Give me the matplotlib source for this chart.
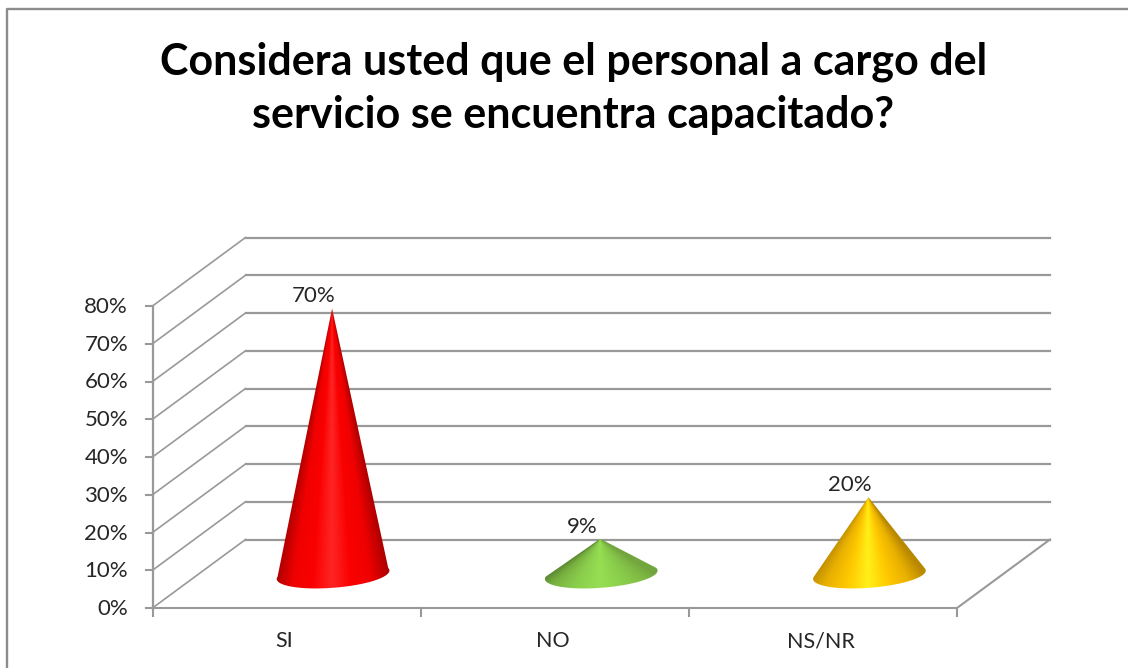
import numpy as np
import matplotlib
matplotlib.use('Agg')
import matplotlib.pyplot as plt
from matplotlib.colors import LinearSegmentedColormap
from matplotlib.path import Path
from matplotlib.patches import PathPatch

categories = ['SI', 'NO', 'NS/NR']
values = [70, 9, 20]
value_labels = ['70%', '9%', '20%']
y_ticks = [0, 10, 20, 30, 40, 50, 60, 70, 80]
cone_colors = [
    ['#a80000', '#f00000', '#fa0000', '#ff2525', '#fa0000', '#f00000', '#b00000'],
    ['#527a2c', '#78b040', '#8ace4c', '#98de52', '#8ace4c', '#80bb45', '#72a53f'],
    ['#b88800', '#e8b000', '#ffc800', '#fff018', '#ffc800', '#e8b000', '#b88800'],
]

GRID = '#999999'
TEXT = '#262626'

# plot box in pixels
X0, X1 = 152.5, 957
Y0, Y80 = 608, 306
DX, DY = 93, -68.5


def px_y(v):
    return Y0 + (Y80 - Y0) * v / 80


def draw_cone(ax, cx, value, colors):
    # base sits half way back in the floor
    base_y = px_y(0) + DY / 2 + 1
    apex_x, apex_y = cx, px_y(value) + DY / 2 - 1
    a, b, tilt = 56.5, 13, np.deg2rad(-4.5)
    t = np.linspace(-0.06 * np.pi, 1.06 * np.pi, 80)
    ex = cx + 1 + a * np.cos(t) * np.cos(tilt) - b * np.sin(t) * np.sin(tilt)
    ey = base_y + a * np.cos(t) * np.sin(tilt) + b * np.sin(t) * np.cos(tilt)
    verts = [(apex_x, apex_y)] + list(zip(ex, ey)) + [(apex_x, apex_y)]
    clip = PathPatch(Path(verts), transform=ax.transData, fc='none', ec='none')
    ax.add_patch(clip)

    # conical shading, colour depends on the angle around the apex
    xs = np.arange(cx - 62, cx + 64)
    ys = np.arange(apex_y, base_y + 16)
    gx, gy = np.meshgrid(xs, ys)
    u = (gx - apex_x) / (np.maximum(gy - apex_y, 1) / (base_y - apex_y) * 57)
    cmap = LinearSegmentedColormap.from_list('cone', colors)
    im = ax.imshow((u + 1) / 2, cmap=cmap, vmin=0, vmax=1, aspect='auto',
                   extent=(xs[0], xs[-1], ys[-1], ys[0]), zorder=3,
                   interpolation='bilinear')
    im.set_clip_path(clip)


fig = plt.figure(figsize=(11.28, 6.68), dpi=100)
ax = fig.add_axes([0, 0, 1, 1])
plt.rcParams['font.family'] = ['Lato', 'DejaVu Sans']

# outer chart frame
ax.plot([7, 7, 1128], [668, 9, 9], color='#8c8c8c', lw=1.7, zorder=1)

# walls and floor
for v in y_ticks:
    y = px_y(v)
    ax.plot([X0, X0 + DX], [y, y + DY], color=GRID, lw=1.2, zorder=2)
    ax.plot([X0 + DX, X1 + DX], [y + DY, y + DY], color=GRID, lw=1.6, zorder=2)
    ax.plot([X0 - 7, X0], [y, y], color=GRID, lw=1.5, zorder=2)
    ax.text(128, y + 1, f'{v}%', ha='right', va='center', fontsize=16, color=TEXT)

ax.plot([X0, X0], [px_y(80), px_y(0)], color=GRID, lw=1.6, zorder=2)
ax.plot([X0, X1, X1 + DX], [Y0, Y0, Y0 + DY], color=GRID, lw=1.5, zorder=2)

step = (X1 - X0) / len(categories)
for i in range(len(categories) + 1):
    ax.plot([X0 + i * step] * 2, [Y0, Y0 + 8], color=GRID, lw=1.5, zorder=2)

for i, (name, val, lab) in enumerate(zip(categories, values, value_labels)):
    cx = X0 + (i + 0.5) * step
    draw_cone(ax, cx + DX / 2 - 1, val, cone_colors[i])
    ax.text(cx - 2, 641, name, ha='center', va='center', fontsize=15.5, color=TEXT)
    ax.text(cx + 27, px_y(val) + DY / 2 - 13, lab, ha='center', va='center',
            fontsize=16, color=TEXT)

ax.text(573.5, 88.5, 'Considera usted que el personal a cargo del\nservicio se encuentra capacitado?',
        ha='center', va='center', fontsize=31, fontweight='bold', color='black',
        linespacing=1.39)

ax.set_xlim(0, 1128)
ax.set_ylim(668, 0)
ax.axis('off')

fig.savefig('out.png', dpi=100)
